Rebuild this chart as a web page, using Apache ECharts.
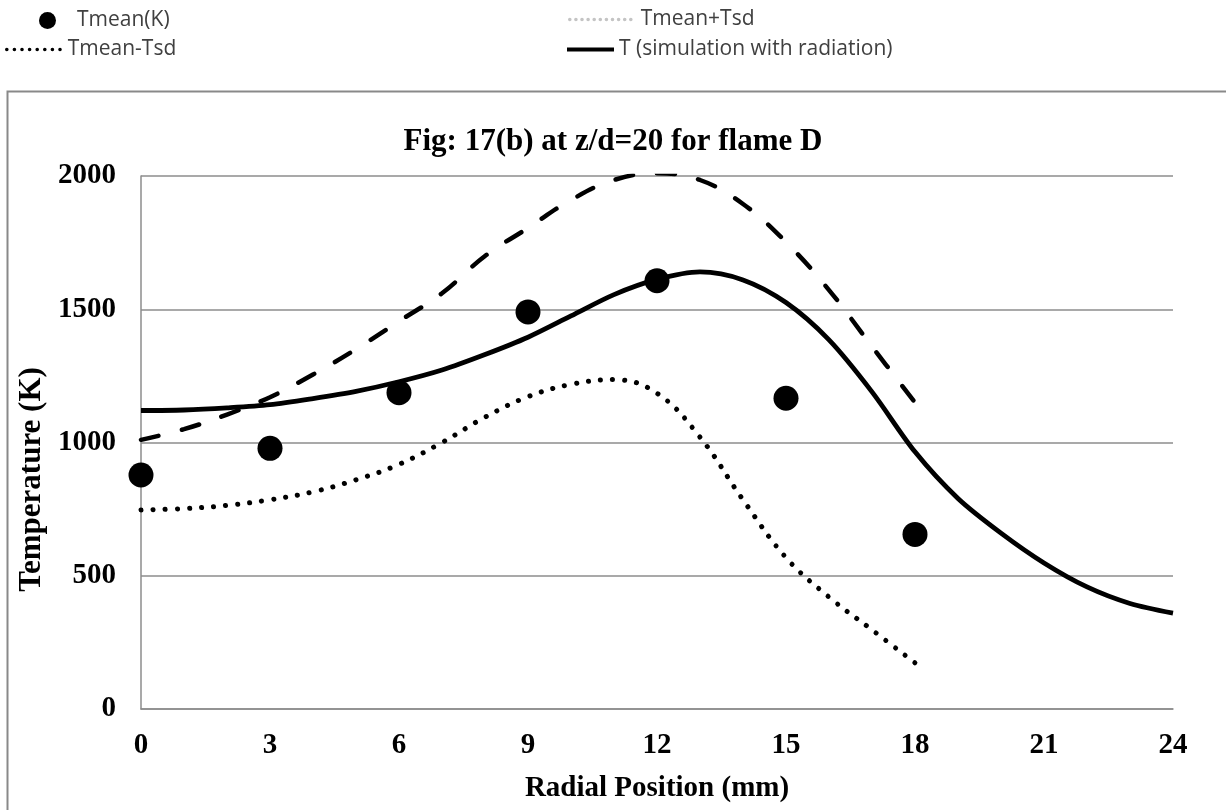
<!DOCTYPE html>
<html>
<head>
<meta charset="utf-8">
<script src="https://cdn.jsdelivr.net/npm/echarts@6/dist/echarts.min.js"></script>
<style>
html,body{margin:0;padding:0;background:#fff;}
#chart{width:1226px;height:810px;}
</style>
</head>
<body>
<div id="chart"></div>
<script>
// ---- data ----
const xTicks = [0, 3, 6, 9, 12, 15, 18, 21, 24];
const yTicks = [0, 500, 1000, 1500, 2000];

const meanX = [0, 3, 6, 9, 12, 15, 18];
const meanT = [878, 978, 1187, 1490, 1607, 1166, 655];

const bandX = [0, 1, 2, 3, 4, 5, 6, 7, 8, 9, 10, 11, 12, 13, 14, 15, 16, 17, 18];
const plusT = [1010, 1050, 1105, 1170, 1255, 1350, 1455, 1560, 1700, 1805, 1910, 1985, 2010, 1985, 1895, 1752, 1572, 1360, 1150];
const minusT = [747, 752, 764, 785, 815, 860, 918, 1000, 1095, 1172, 1218, 1236, 1185, 1020, 785, 568, 420, 297, 173];

const simX = [0, 1, 2, 3, 4, 5, 6, 7, 8, 9, 10, 11, 12, 13, 14, 15, 16, 17, 18, 19, 20, 21, 22, 23, 24];
const simT = [1120, 1122, 1130, 1142, 1165, 1192, 1228, 1272, 1330, 1395, 1475, 1555, 1612, 1640, 1610, 1525, 1385, 1190, 965, 790, 660, 548, 458, 396, 360];

const names = ['Tmean(K)', 'Tmean+Tsd', 'Tmean-Tsd', 'T (simulation with radiation)'];

function pairs(xs, ys) { return xs.map((x, i) => [x, ys[i]]); }

const serif = '"Liberation Serif", "Times New Roman", serif';
const legendText = { fontFamily: '"Open Sans", sans-serif', fontSize: 21, color: '#404040' };
const gridGray = '#8c8c8c';
const hideSym = { opacity: 0 };

const chart = echarts.init(document.getElementById('chart'), null, { renderer: 'canvas' });
chart.setOption({
  animation: false,
  backgroundColor: '#fff',
  color: ['#000', '#000', '#000', '#000'],
  graphic: [{
    type: 'rect', left: 5, top: 89, z: -10, silent: true,
    shape: { width: 1400, height: 900 },
    style: { fill: 'none', stroke: '#898989', lineWidth: 2 }
  }],
  title: {
    text: 'Fig: 17(b) at z/d=20 for flame D',
    left: 'center', top: 121,
    textStyle: { fontFamily: serif, fontWeight: 'bold', fontSize: 31, color: '#000' }
  },
  legend: [
    { data: [names[0]], left: 39, top: 10, padding: 0, itemWidth: 17, itemHeight: 17, icon: 'circle', selectedMode: false,
      itemStyle: { color: '#000', opacity: 1 }, textStyle: Object.assign({ padding: [0, 0, 0, 16] }, legendText) },
    { data: [names[1]], left: 568, top: 9, padding: 0, itemWidth: 66, itemHeight: 16, selectedMode: false,
      itemStyle: hideSym,
      lineStyle: { color: '#c4c4c4', type: [0.1, 6], width: 3.5, cap: 'round' }, textStyle: legendText },
    { data: [names[2]], left: 5, top: 39, padding: 0, itemWidth: 56, itemHeight: 16, selectedMode: false,
      itemStyle: hideSym,
      lineStyle: { color: '#000', type: [0.1, 7.5], width: 3.5, cap: 'round' }, textStyle: legendText },
    { data: [names[3]], left: 565, top: 39, padding: 0, itemWidth: 47, itemHeight: 16, selectedMode: false,
      itemStyle: hideSym,
      lineStyle: { color: '#000', width: 4 }, textStyle: legendText }
  ],
  grid: { left: 141, right: 53, top: 176, bottom: 101, containLabel: false },
  xAxis: {
    type: 'value', min: xTicks[0], max: xTicks[xTicks.length - 1], interval: 3,
    name: 'Radial Position (mm)', nameLocation: 'middle', nameGap: 65,
    nameTextStyle: { fontFamily: serif, fontWeight: 'bold', fontSize: 29, color: '#000' },
    axisLine: { show: true, lineStyle: { color: gridGray, width: 1.5 } },
    axisTick: { show: false },
    splitLine: { show: false },
    axisLabel: { fontFamily: serif, fontWeight: 'bold', fontSize: 29, color: '#000', margin: 22 }
  },
  yAxis: {
    type: 'value', min: yTicks[0], max: yTicks[yTicks.length - 1], interval: 500,
    name: 'Temperature (K)', nameLocation: 'middle', nameGap: 94,
    nameTextStyle: { fontFamily: serif, fontWeight: 'bold', fontSize: 31, color: '#000', padding: [0, 74, 0, 0] },
    axisLine: { show: true, lineStyle: { color: gridGray, width: 1.5 } },
    axisTick: { show: false },
    splitLine: { show: true, lineStyle: { color: gridGray, width: 1.5 } },
    axisLabel: { fontFamily: serif, fontWeight: 'bold', fontSize: 29, color: '#000', margin: 25,
      formatter: v => String(v) }
  },
  series: [
    { name: names[1], type: 'line', data: pairs(bandX, plusT), smooth: 0.4, symbol: 'none', z: 2,
      itemStyle: { color: '#000' },
      lineStyle: { color: '#000', width: 4.5, type: [18, 24], cap: 'round' } },
    { name: names[2], type: 'line', data: pairs(bandX, minusT), smooth: 0.4, symbol: 'none', z: 2,
      itemStyle: { color: '#000' },
      lineStyle: { color: '#000', width: 5, type: [0.1, 12], cap: 'round' } },
    { name: names[3], type: 'line', data: pairs(simX, simT), smooth: 0.3, symbol: 'none', z: 3,
      itemStyle: { color: '#000' },
      lineStyle: { color: '#000', width: 4.8 } },
    { name: names[0], type: 'scatter', data: pairs(meanX, meanT), symbol: 'circle', symbolSize: 25, z: 4,
      itemStyle: { color: '#000', opacity: 1 } }
  ]
});
</script>
</body>
</html>
